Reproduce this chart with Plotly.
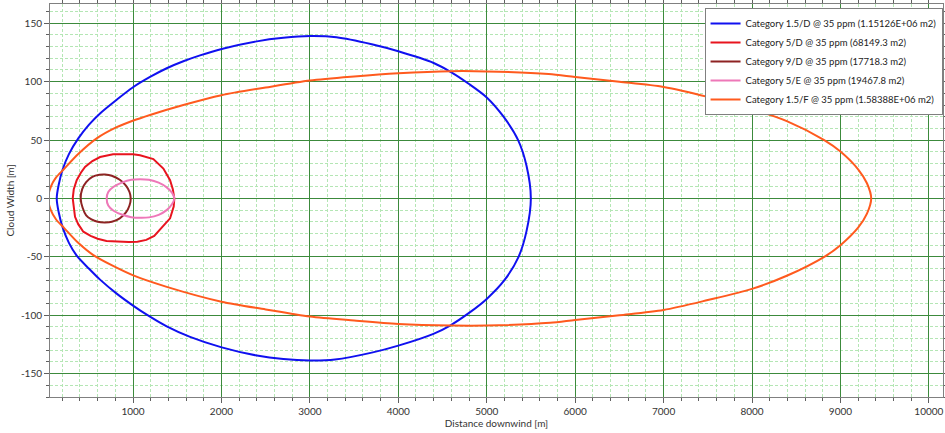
import plotly.graph_objects as go

# ---------------- data ----------------
series_names = [
    "Category 1.5/D @ 35 ppm (1.15126E+06 m2)",
    "Category 5/D @ 35 ppm (68149.3 m2)",
    "Category 9/D @ 35 ppm (17718.3 m2)",
    "Category 5/E @ 35 ppm (19467.8 m2)",
    "Category 1.5/F @ 35 ppm (1.58388E+06 m2)",
]

cat15D_x = [137, 160, 205, 275, 381, 500, 627, 815, 996, 1192, 1381, 1569, 1758, 2003, 2400, 2700, 3000, 3300, 3700,
            4000, 4400, 4600, 4800, 5000, 5190, 5355, 5450, 5499,
            5450, 5360, 5200, 5000, 4800, 4586, 4397, 4000, 3700, 3285, 3000, 2700, 2400, 2003, 1645, 1381,
            1155, 996, 815, 627, 500, 363, 275, 205, 160, 137]
cat15D_y = [0, 12, 25, 38, 51.4, 63, 72.8, 84.5, 95, 104, 111.5, 117.5, 122.5, 128, 134.5, 137.5, 139, 138, 132,
            126, 116, 108, 98, 86.5, 70, 50, 28, 0,
            -28, -50, -70, -86, -98, -108.8, -115.9, -126, -132, -137.9, -138.7, -137.5, -134.5, -127.5, -118.5, -109.5,
            -99.5, -91.5, -81.5, -69.5, -60, -49, -38, -25, -12, 0]

cat5D_x = [318, 330, 363, 410, 457, 540, 627, 774, 900, 1000, 1079, 1160, 1230, 1343, 1419, 1450, 1467,
           1460, 1419, 1360, 1305, 1240, 1150, 1050, 950, 830, 700, 600, 520, 438, 380, 344, 325, 318]
cat5D_y = [0, 8, 15.6, 22, 27, 32, 35.5, 37.9, 37.9, 37.8, 37, 35.5, 33.7, 25.6, 15.6, 8, 0,
           -7, -17, -22, -27, -32, -35.5, -37, -37.3, -37.1, -36.5, -34.5, -32, -28.5, -22, -15.7, -7, 0]

cat9D_x = [408, 425, 470, 540, 620, 683, 760, 850, 920, 960, 974,
           960, 920, 850, 760, 683, 600, 530, 470, 430, 408]
cat9D_y = [0, 8, 14, 18.5, 20.3, 20.5, 19.5, 16, 11, 5.5, 0,
           -6, -12, -17, -20, -20.5, -20, -18, -14.5, -8, 0]

cat5E_x = [702, 720, 780, 880, 980, 1079, 1180, 1290, 1380, 1440, 1467,
           1440, 1380, 1290, 1180, 1079, 980, 880, 780, 720, 702]
cat5E_y = [0, 5.5, 10, 13.8, 16, 16.5, 16, 13.5, 9.5, 5, 0,
           -5, -10, -14, -16.2, -16.5, -16, -14, -10.5, -6, 0]

cat15F_x = [40, 70, 130, 217, 380, 589, 815, 996, 1192, 1569, 2000, 2500, 3000, 3500, 4000, 4600, 5000, 5700,
            6000, 6500, 7000, 7500, 8000, 8400, 8817, 9000, 9200, 9300, 9348,
            9300, 9200, 9000, 8817, 8400, 8000, 7500, 7000, 6500, 6000, 5717, 5000, 4600, 4000, 3500,
            3000, 2500, 2000, 1381, 996, 551, 380, 217, 130, 70, 40]
cat15F_y = [0, 10, 18, 25, 38, 51.4, 61, 66.5, 71.5, 80, 88.4, 95, 101, 104.5, 107.2, 109, 108.8, 106.5,
            104, 100, 95.5, 87, 76.5, 66, 50, 40.2, 25, 13, 0,
            -13, -25, -40, -50, -66, -77.4, -87, -95.5, -100, -104, -106.5, -108.8, -108.8, -107.4, -104.5,
            -101.1, -95, -88.4, -75.7, -65.7, -48.5, -38, -25, -18, -10, 0]

x_ticks = [1000, 2000, 3000, 4000, 5000, 6000, 7000, 8000, 9000, 10000]
x_tick_labels = ["1000", "2000", "3000", "4000", "5000", "6000", "7000", "8000", "9000", "10000"]
y_ticks = [-150, -100, -50, 0, 50, 100, 150]
y_tick_labels = ["-150", "-100", "-50", "0", "50", "100", "150"]

# ---------------- styling ----------------
colors = ["#1010F0", "#E8141E", "#8E2323", "#EE78B8", "#FF5A1E"]
shapes = ["spline", "linear", "spline", "spline", "spline"]
MAJOR = "#3c8a3c"
MINOR = "#b4e6b4"
FONT = "Lato"

fig = go.Figure()
data = [(cat15D_x, cat15D_y), (cat5D_x, cat5D_y), (cat9D_x, cat9D_y),
        (cat5E_x, cat5E_y), (cat15F_x, cat15F_y)]
for name, (xs, ys), c, sh in zip(series_names, data, colors, shapes):
    fig.add_trace(go.Scatter(x=xs, y=ys, mode="lines", name=name,
                             line=dict(color=c, width=2, shape=sh, smoothing=0.8)))

axis_common = dict(
    showline=True, linecolor="#808080", linewidth=1, mirror="allticks",
    ticks="outside", ticklen=5, tickcolor="#606060",
    showgrid=True, gridcolor=MAJOR, gridwidth=1, zeroline=False,
    tickfont=dict(family=FONT, size=10, color="#333333"),
    automargin=False,
)

fig.update_xaxes(
    range=[61, 10160], tickvals=x_ticks, ticktext=x_tick_labels,
    title=dict(text="Distance downwind [m]", font=dict(family=FONT, size=10, color="#333333"), standoff=2),
    minor=dict(dtick=200, tick0=0, showgrid=True, gridcolor=MINOR, griddash="3px,2px", gridwidth=1,
               ticks="outside", ticklen=3, tickcolor="#606060"),
    **axis_common,
)
fig.update_yaxes(
    range=[-170, 166.5], tickvals=y_ticks, ticktext=y_tick_labels,
    title=dict(text="Cloud Width [m]", font=dict(family=FONT, size=10, color="#333333"), standoff=4),
    minor=dict(dtick=10, tick0=0, showgrid=True, gridcolor=MINOR, griddash="3px,2px", gridwidth=1,
               ticks="outside", ticklen=3, tickcolor="#606060"),
    **axis_common,
)

fig.update_layout(
    width=945, height=433,
    margin=dict(l=50, r=2, t=4, b=36, autoexpand=False),
    plot_bgcolor="white", paper_bgcolor="white",
    font=dict(family=FONT, size=10, color="#333333"),
    legend=dict(x=0.9995, xanchor="right", y=0.99, yanchor="top",
                bgcolor="white", bordercolor="#808080", borderwidth=1,
                font=dict(family=FONT, size=9.5, color="#222222"),
                itemwidth=30, tracegroupgap=0),
    showlegend=True,
)

fig.write_html("out.html", config={"displayModeBar": False},
               post_script="document.body.style.margin='0px';")
